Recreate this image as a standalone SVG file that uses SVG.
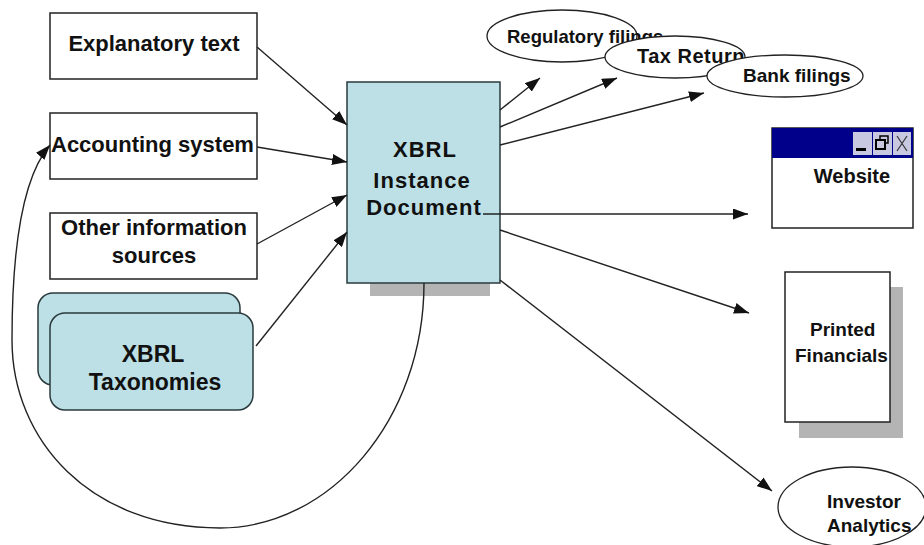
<svg xmlns="http://www.w3.org/2000/svg" width="924" height="545" viewBox="0 0 924 545">
<style>
.box{fill:#fff;stroke:#222;stroke-width:1.5}
.blue{fill:#bde0e6;stroke:#2a3a3c;stroke-width:1.5}
.ell{fill:#fff;stroke:#222;stroke-width:1.3}
.t{font-family:"Liberation Sans",Arial,sans-serif;font-weight:bold;fill:#111}
.l22{font-size:22px}
.m19{font-size:19px}
.c{text-anchor:middle}
.conn{fill:none;stroke:#222;stroke-width:1.4}
.shadow{fill:#b4b4b4}
</style>
<defs>
<marker id="ah" markerUnits="userSpaceOnUse" markerWidth="15" markerHeight="11" refX="15" refY="5.5" orient="auto">
<path d="M0,0 L15,5.5 L0,11 z" fill="#111"/>
</marker>
</defs>
<rect width="924" height="545" fill="#fff"/>

<g id="explanatory">
<rect class="box" x="50" y="13" width="207" height="66"/>
<text class="t l22 c" x="154" y="51">Explanatory text</text>
</g>
<g id="accounting">
<rect class="box" x="50" y="113" width="207" height="66"/>
<text class="t l22" x="51" y="152">Accounting system</text>
</g>
<g id="other">
<rect class="box" x="50" y="213" width="207" height="66"/>
<text class="t l22 c" x="154" y="235">Other information</text>
<text class="t l22 c" x="154" y="263">sources</text>
</g>
<g id="taxonomies">
<rect class="blue" x="38" y="293" width="202" height="92" rx="15"/>
<rect class="blue" x="50" y="313" width="203" height="97" rx="15"/>
<text class="t c" font-size="23" x="153" y="362">XBRL</text>
<text class="t c" font-size="23" x="155" y="390">Taxonomies</text>
</g>
<g id="instance">
<rect class="shadow" x="370" y="260" width="120" height="36"/>
<rect class="blue" x="347" y="82" width="153" height="201"/>
<text class="t c" font-size="22" letter-spacing="1" x="425" y="157">XBRL</text>
<text class="t c" font-size="22" letter-spacing="1" x="422" y="188">Instance</text>
<text class="t c" font-size="22" letter-spacing="1" x="424" y="215">Document</text>
</g>
<g id="regulatory">
<ellipse class="ell" cx="562" cy="36" rx="75" ry="26"/>
<text class="t" font-size="18.5" x="507" y="43">Regulatory filings</text>
</g>
<g id="tax">
<ellipse class="ell" cx="675" cy="57" rx="70" ry="21"/>
<text class="t" font-size="20" letter-spacing="0.5" x="637" y="63">Tax Return</text>
</g>
<g id="bank">
<ellipse class="ell" cx="785" cy="76" rx="78" ry="21"/>
<text class="t" font-size="19" x="743" y="82">Bank filings</text>
</g>
<g id="website">
<rect class="box" x="772" y="128" width="141" height="100"/>
<rect x="772" y="128" width="141" height="30" fill="#00008b"/>
<rect x="853" y="132" width="19" height="23" fill="#c8c8e0"/>
<rect x="873" y="132" width="19" height="23" fill="#c8c8e0"/>
<rect x="893" y="132" width="18" height="23" fill="#c8c8e0"/>
<rect x="856" y="148" width="10" height="3" fill="#000"/>
<rect x="880" y="136" width="8" height="7" fill="none" stroke="#000" stroke-width="1.5"/>
<rect x="876" y="140" width="9" height="9" fill="#c8c8e0" stroke="#000" stroke-width="2"/>
<path d="M897,136 L907,151 M907,136 L897,151" stroke="#333" stroke-width="1.2"/>
<text class="t c" font-size="20" x="852" y="183">Website</text>
</g>
<g id="printed">
<rect class="shadow" x="799" y="287" width="104" height="151"/>
<rect class="box" x="785" y="272" width="105" height="150"/>
<text class="t m19" x="810" y="336">Printed</text>
<text class="t m19" x="795" y="362">Financials</text>
</g>
<g id="investor">
<ellipse class="ell" cx="852" cy="507" rx="74" ry="40"/>
<text class="t m19" x="827" y="508">Investor</text>
<text class="t m19" x="827" y="532">Analytics</text>
</g>

<g id="connectors">
<line class="conn" x1="257" y1="47" x2="347" y2="125" marker-end="url(#ah)"/>
<line class="conn" x1="257" y1="147" x2="347" y2="162" marker-end="url(#ah)"/>
<line class="conn" x1="257" y1="244" x2="347" y2="195" marker-end="url(#ah)"/>
<line class="conn" x1="256" y1="346" x2="347" y2="232" marker-end="url(#ah)"/>
<line class="conn" x1="500" y1="110" x2="540" y2="78" marker-end="url(#ah)"/>
<line class="conn" x1="500" y1="127" x2="617" y2="78" marker-end="url(#ah)"/>
<line class="conn" x1="500" y1="145" x2="704" y2="93" marker-end="url(#ah)"/>
<line class="conn" x1="483" y1="214" x2="748" y2="214" marker-end="url(#ah)"/>
<line class="conn" x1="500" y1="230" x2="749" y2="313" marker-end="url(#ah)"/>
<line class="conn" x1="500" y1="280" x2="772" y2="491" marker-end="url(#ah)"/>
<path class="conn" d="M424,283 C424,420 330,528 220,528 C90,528 12,440 12,340 C12,240 24,175 50,145" marker-end="url(#ah)"/>
</g>
</svg>
